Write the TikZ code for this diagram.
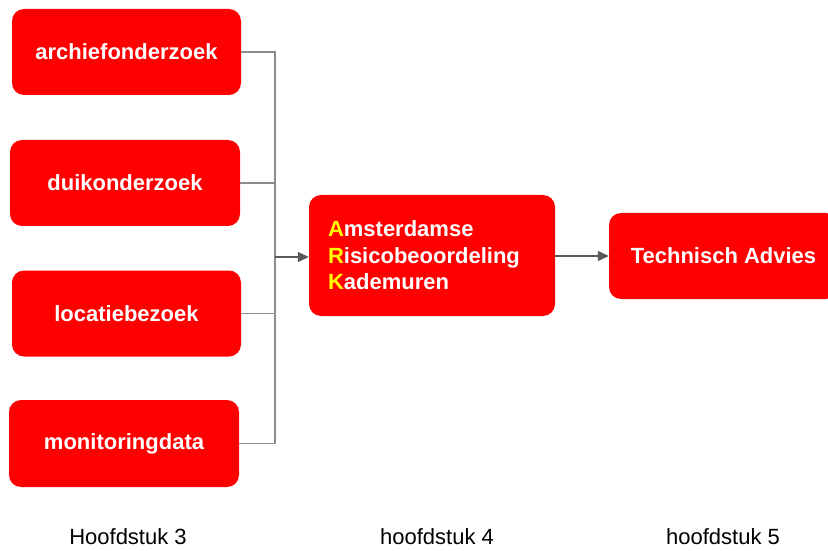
\documentclass[tikz,border=0pt]{standalone}
\usepackage{fontspec}
\setmainfont{Liberation Sans}
\usetikzlibrary{arrows.meta}
\definecolor{boxred}{HTML}{FF0000}
\definecolor{ylw}{HTML}{FFFF00}
\definecolor{linegray}{HTML}{8C8C8C}
\definecolor{arrowgray}{HTML}{595959}
\tikzset{
  redbox/.style={fill=boxred, draw=none, rounded corners=12pt, text=white,
    font=\fontsize{22}{26.5}\selectfont\bfseries, minimum width=229pt, minimum height=86pt, inner sep=0pt},
  feed/.style={draw=linegray, line width=1.2pt},
  arr/.style={draw=arrowgray, line width=1.2pt, -{Triangle[length=11pt,width=10pt]}},
  chap/.style={font=\fontsize{22}{26}\selectfont, text=black, inner sep=0pt}
}
\begin{document}
\begin{tikzpicture}[x=1pt,y=1pt]
\useasboundingbox[fill=white] (0,0) rectangle (828,550);
\node[redbox] (arch) at (126.5,498) {archiefonderzoek};
\node[redbox, minimum width=230pt] (duik) at (125,367) {duikonderzoek};
\node[redbox] (loc) at (126.5,236.5) {locatiebezoek};
\node[redbox, minimum width=230pt, minimum height=87pt] (mon) at (124,106.5) {monitoringdata};
\node[redbox, minimum width=246pt, minimum height=121pt, text width=208pt, inner xsep=19pt, align=left] (ark) at (432,294.5)
  {\raisebox{-2pt}{\textcolor{ylw}{A}msterdamse}\\\raisebox{-2pt}{\textcolor{ylw}{R}isicobeoordeling}\\\raisebox{-2pt}{\textcolor{ylw}{K}ademuren}};
\node[redbox] (tech) at (723.5,294) {Technisch Advies};
\coordinate (j) at (275,293);
\draw[feed] (arch.east) -| (j);
\draw[feed] (duik.east) -| (j);
\draw[feed] (loc.east) -| (j);
\draw[feed] (mon.east) -| (j);
\draw[arr] (j) -- (ark.west |- j);
\draw[arr] (ark.east |- tech) -- (tech.west);
\node[chap] (h3) at (128,13) {Hoofdstuk 3};
\node[chap] (h4) at (437,13) {hoofdstuk 4};
\node[chap] (h5) at (723,13) {hoofdstuk 5};
\end{tikzpicture}
\end{document}
